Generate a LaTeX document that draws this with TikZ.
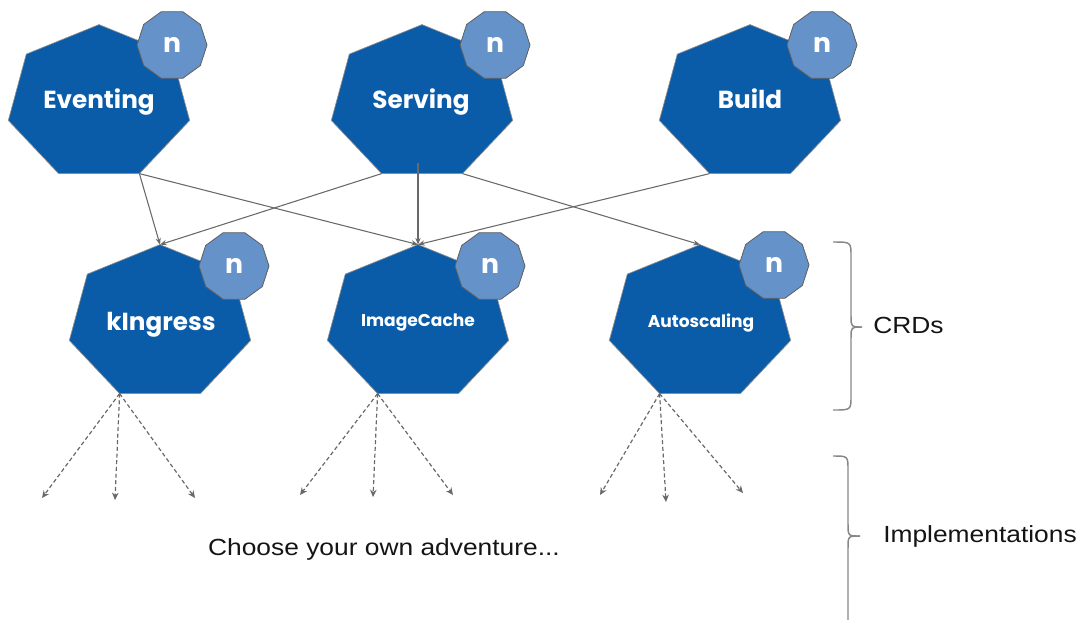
\documentclass[tikz,border=0pt]{standalone}
\usepackage{fontspec}
\setmainfont{Liberation Sans}[FakeStretch=1.13]
\newfontfamily\lblfont{Poppins}
\usetikzlibrary{shapes.geometric,arrows.meta}
\definecolor{kblue}{RGB}{10,92,168}
\definecolor{kbadge}{RGB}{100,146,201}
\definecolor{kedge}{RGB}{95,95,95}
\definecolor{kline}{RGB}{105,105,105}
\definecolor{ktext}{RGB}{20,20,20}
\begin{document}
\begin{tikzpicture}[x=0.75pt,y=-0.75pt,
  hept/.pic={
    \filldraw[fill=kblue,draw=kedge!70,line width=0.5pt] (0,-78.4)
      \foreach \k [evaluate=\k as \a using -90+\k*360/7] in {1,...,6}{ -- (\a:93 and 78.4)} -- cycle;
    \coordinate (-top) at (0,-78.4);
    \coordinate (-bl) at (-40.4,70.6);
    \coordinate (-br) at (40.4,70.6);
    \coordinate (-bm) at (-4,60);
  },
  badge/.style={regular polygon,regular polygon sides=10,minimum size=52.5pt,inner sep=0pt,
    fill=kbadge,draw=kedge,line width=0.6pt,text=white,font=\lblfont\bfseries\fontsize{20}{22}\selectfont},
  biglbl/.style={anchor=base,text=white,font=\lblfont\bfseries\fontsize{18.5}{20}\selectfont},
  smalllbl/.style={anchor=base,text=white,font=\lblfont\bfseries\fontsize{12.8}{15}\selectfont},
  link/.style={draw=kline,line width=0.8pt,-{Stealth[length=5pt,width=4pt]}},
  fan/.style={draw=kline,line width=0.9pt,dash pattern=on 3pt off 2pt,-{Stealth[length=5.5pt,width=5pt]}},
  brace/.style={draw=kline!80,line width=1.1pt},
  note/.style={text=ktext,font=\fontsize{17.5}{20}\selectfont,inner sep=0pt}
]
\useasboundingbox (0,0) rectangle (1084,619);

% heptagon bodies
\pic (ev) at (99,103) {hept};
\pic (sv) at (422,103) {hept};
\pic (bd) at (750,103) {hept};
\pic (ki) at (160,323) {hept};
\pic (ic) at (418,323) {hept};
\pic (au) at (700,323) {hept};

% badges
\node[badge] (evn) at (172,45) {n};
\node[badge] (svn) at (495,45) {n};
\node[badge] (bdn) at (822,45) {n};
\node[badge] (kin) at (234,266) {n};
\node[badge] (icn) at (490,266) {n};
\node[badge] (aun) at (774,265) {n};

% labels
\node[biglbl] (evt) at (99,108) {Eventing};
\node[biglbl] (svt) at (421,108) {Serving};
\node[biglbl] (bdt) at (750,108) {Build};
\node[biglbl] (kit) at (161,330) {kIngress};
\node[smalllbl] (ict) at (418,326) {ImageCache};
\node[smalllbl] (aut) at (701,327) {Autoscaling};

% dependencies between components
\draw[link] (ev-br) -- (ki-top);
\draw[link] (ev-br) -- (ic-top);
\draw[link] (sv-bl) -- (ki-top);
\draw[link] (sv-bm) -- (ic-top);
\draw[link] (sv-br) -- (au-top);
\draw[link] (bd-bl) -- (ic-top);

% implementation fan-outs
\coordinate (k1) at (42,498);  \coordinate (k2) at (115,500); \coordinate (k3) at (195,498);
\coordinate (i1) at (300,495); \coordinate (i2) at (373,497); \coordinate (i3) at (453,495);
\coordinate (a1) at (600,495); \coordinate (a2) at (666,502); \coordinate (a3) at (743,493);
\foreach \t in {k1,k2,k3} \draw[fan] (ki-bl) -- (\t);
\foreach \t in {i1,i2,i3} \draw[fan] (ic-bl) -- (\t);
\foreach \t in {a1,a2,a3} \draw[fan] (au-bl) -- (\t);

% braces
\draw[brace] (833,242) .. controls (851,242) .. (851,256) -- (851,316)
  .. controls (851,327) .. (862,327);
\draw[brace] (833,410) .. controls (851,410) .. (851,396) -- (851,338)
  .. controls (851,327) .. (862,327);
\draw[brace] (833,456) .. controls (848,456) .. (848,470) -- (848,524)
  .. controls (848,536) .. (860,536);
\draw[brace] (848,640) -- (848,548) .. controls (848,536) .. (860,536);

% text
\node[note,anchor=base] (adv) at (384,555) {Choose your own adventure...};
\node[note,anchor=base west] (crd) at (873,333) {CRDs};
\node[note,anchor=base west] (imp) at (883,542) {Implementations};
\end{tikzpicture}
\end{document}
